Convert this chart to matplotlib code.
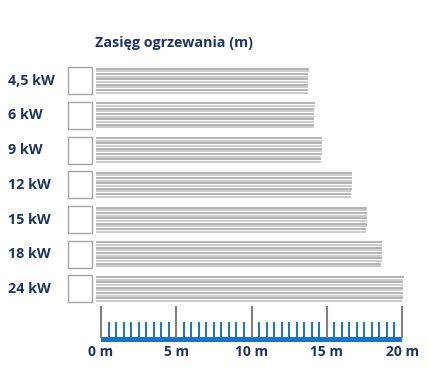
import numpy as np
import matplotlib.pyplot as plt
from matplotlib.patches import Rectangle

# data
labels = ['4,5 kW', '6 kW', '9 kW', '12 kW', '15 kW', '18 kW', '24 kW']
reach_m = [13.8, 14.2, 14.7, 16.7, 17.7, 18.7, 20.1]
major_ticks = [0, 5, 10, 15, 20]
tick_labels = ['0 m', '5 m', '10 m', '15 m', '20 m']
title = 'Zasięg ogrzewania (m)'

navy = '#1b3461'
blue = '#1a73c4'
plt.rcParams['font.family'] = ['Open Sans', 'DejaVu Sans']

W, H = 429, 373
px_per_m = 15.05
x0_px = 101
row0_px, row_px = 80.7, 34.7


def ry(py):
    # pixel row -> y units
    return (py - row0_px) / row_px


def mx(px):
    return (px - x0_px) / px_per_m


fig = plt.figure(figsize=(W / 100, H / 100), dpi=100)
ax = fig.add_axes([0, 0, 1, 1])
ax.set_xlim(mx(0), mx(W))
ax.set_ylim(ry(H), ry(0))
ax.axis('off')

# striped bars
n_lines = 10
bar_h = 24 / row_px
offs = np.linspace(-bar_h / 2, bar_h / 2, n_lines)
shades = ['#aaaaaa', '#c6c6c6']
for i, (lab, v) in enumerate(zip(labels, reach_m)):
    for j, o in enumerate(offs):
        ax.hlines(i + o, mx(96), v - j * 0.008, color=shades[j % 2], lw=1.25)
    ax.add_patch(Rectangle((mx(67.5), i - 13.5 / row_px), 24 / px_per_m, 27 / row_px,
                           fill=False, ec='#a6a6a6', lw=1.0))
    ax.text(mx(8), i, lab, ha='left', va='center', fontsize=10.3,
            fontweight='bold', color=navy)

ax.text(mx(95), ry(43), title, ha='left', va='center', fontsize=10.3,
        fontweight='bold', color=navy)

# ruler
minor = [m for m in np.arange(0.5, 20, 0.5) if m % 5 != 0]
ax.vlines(minor, ry(322), ry(338), color=blue, lw=1.4)
ax.vlines(major_ticks, ry(306), ry(338), color='#7f7f7f', lw=1.5)
ax.add_patch(Rectangle((0, ry(337)), 20, 5 / row_px, color=blue, lw=0))
for t, tl in zip(major_ticks, tick_labels):
    ax.text(t, ry(352), tl, ha='center', va='center', fontsize=10,
            fontweight='bold', color=navy)

fig.savefig('out.png', dpi=100)
